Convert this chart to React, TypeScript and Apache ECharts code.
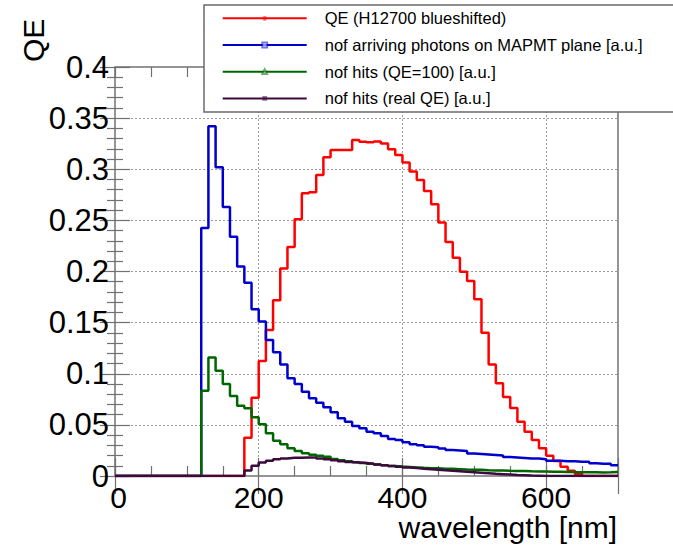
import React, { useEffect, useRef } from "react";
import * as echarts from "echarts";

// ---- data (bin width 10 nm, bins start at 0 nm) ----
const BIN_WIDTH = 10;
const X_MIN = 0;
const X_MAX = 700;
const Y_MAX = 0.4;

const seriesNames = [
  "QE (H12700 blueshifted)",
  "nof arriving photons on MAPMT plane [a.u.]",
  "nof hits (QE=100) [a.u.]",
  "nof hits (real QE) [a.u.]",
];

const seriesColors = ["#ff0000", "#0000cc", "#006600", "#3d0a3d"];

const qeBlueshifted = [
  0, 0, 0, 0, 0, 0, 0, 0, 0, 0, 0, 0, 0, 0, 0, 0, 0, 0,
  0.0375, 0.0766, 0.1125, 0.1428, 0.172, 0.203, 0.224, 0.251, 0.2765, 0.2775,
  0.2944, 0.3117, 0.3188, 0.3188, 0.3188, 0.3286, 0.327, 0.3263, 0.3272, 0.3253,
  0.3195, 0.314, 0.3067, 0.2977, 0.2895, 0.2787, 0.2657, 0.248, 0.2288, 0.2135,
  0.1998, 0.1907, 0.1728, 0.14, 0.109, 0.0906, 0.0773, 0.0665, 0.0531, 0.0433,
  0.0352, 0.0271, 0.0199, 0.0147, 0.0091, 0.0052, 0.002,
  0, 0, 0, 0, 0,
];

const arrivingPhotons = [
  0, 0, 0, 0, 0, 0, 0, 0, 0, 0, 0, 0,
  0.2425, 0.342, 0.302, 0.263, 0.234, 0.205, 0.189, 0.163, 0.151, 0.133,
  0.121, 0.109, 0.0955, 0.09, 0.0825, 0.076, 0.0717, 0.0672, 0.0623, 0.0564,
  0.0531, 0.0489, 0.0466, 0.0433, 0.0417, 0.039, 0.0362, 0.0352, 0.033, 0.031,
  0.03, 0.0285, 0.028, 0.027, 0.0255, 0.025, 0.0245, 0.022, 0.0215, 0.021,
  0.0205, 0.02, 0.0185, 0.018, 0.0175, 0.017, 0.017, 0.0165, 0.015, 0.015,
  0.0145, 0.0145, 0.014, 0.014, 0.0125, 0.012, 0.012, 0.0105,
];

const hitsQE100 = [
  0, 0, 0, 0, 0, 0, 0, 0, 0, 0, 0, 0,
  0.0834, 0.116, 0.103, 0.09, 0.0782, 0.0688, 0.0662, 0.0574, 0.0505, 0.0417,
  0.0345, 0.031, 0.0271, 0.0244, 0.0222, 0.0208, 0.0199, 0.0189, 0.0166, 0.0155,
  0.0145, 0.0135, 0.0128, 0.012, 0.0112, 0.0105, 0.0098, 0.0092, 0.0088, 0.0084,
  0.008, 0.0077, 0.0075, 0.0072, 0.007, 0.0067, 0.0064, 0.0062, 0.006, 0.0057,
  0.0055, 0.0053, 0.0051, 0.005, 0.0048, 0.0046, 0.0045, 0.0044, 0.0042, 0.0041,
  0.004, 0.0038, 0.0037, 0.0036, 0.0036, 0.0035, 0.0037, 0.004,
];

const hitsRealQE = [
  0, 0, 0, 0, 0, 0, 0, 0, 0, 0, 0, 0, 0, 0, 0, 0, 0, 0,
  0.0055, 0.01, 0.0132, 0.015, 0.0163, 0.0172, 0.0178, 0.0179, 0.0181, 0.018,
  0.0172, 0.0165, 0.0155, 0.0145, 0.0138, 0.0132, 0.0126, 0.012, 0.0113, 0.0105,
  0.0098, 0.0091, 0.0084, 0.0078, 0.0072, 0.0067, 0.0062, 0.0057, 0.0052, 0.0047,
  0.0042, 0.0037, 0.0032, 0.0027, 0.0022, 0.0018, 0.0014, 0.001, 0.0007, 0.0004,
  0.0002,
  0, 0, 0, 0, 0, 0, 0, 0, 0, 0, 0,
];

const seriesValues = [qeBlueshifted, arrivingPhotons, hitsQE100, hitsRealQE];
const seriesSymbols = [
  "circle",
  "emptyRect",
  "emptyTriangle",
  "path://M4,0 L6,0 L6,10 L4,10 Z",
];

const X_MAJOR = 200;
const X_MINOR = 50;
const Y_MAJOR = 0.05;

function toSteps(values: number[]): number[][] {
  const pts = values.map((v, i) => [X_MIN + i * BIN_WIDTH, v]);
  pts.push([X_MIN + values.length * BIN_WIDTH, values[values.length - 1]]);
  return pts;
}

const FONT = "Liberation Sans";
const FRAME = "#707070";

export default function App() {
  const ref = useRef<HTMLDivElement>(null);

  useEffect(() => {
    document.body.style.margin = "0";
    if (!ref.current) return;
    const chart = echarts.init(ref.current, null, { renderer: "svg" });

    const gridRect = { left: 115, right: 55, top: 67, bottom: 69 };
    const tickStyle = { color: FRAME, width: 1.2 };
    const dotted = { color: "#9a9a9a", width: 1, type: [2, 2] as number[] };

    const option: any = {
      animation: false,
      backgroundColor: "#ffffff",
      grid: [
        { ...gridRect, show: true, borderColor: FRAME, borderWidth: 1.5, backgroundColor: "transparent", z: 0 },
        { ...gridRect, show: false },
      ],
      xAxis: [
        {
          gridIndex: 0, type: "value", position: "bottom", min: X_MIN, max: X_MAX, interval: X_MAJOR,
          axisLine: { show: false },
          axisTick: { show: true, inside: true, length: 18, lineStyle: tickStyle },
          axisLabel: {
            show: true, margin: 9, color: "#000", fontSize: 30, lineHeight: 24, fontFamily: FONT,
            formatter: (v: number) => (v === X_MAX ? "" : v === X_MIN ? "{first|" + v + "}" : String(v)),
            rich: {
              first: { fontSize: 30, fontFamily: FONT, color: "#000", lineHeight: 24, padding: [0, 0, 0, 7] },
            },
          },
          splitLine: { show: true, lineStyle: dotted },
        },
        {
          gridIndex: 0, type: "value", position: "top", min: X_MIN, max: X_MAX, interval: X_MAJOR,
          axisLine: { show: false },
          axisTick: { show: true, inside: true, length: 18, lineStyle: tickStyle },
          axisLabel: { show: false },
          splitLine: { show: false },
        },
        {
          gridIndex: 1, type: "value", position: "bottom", min: X_MIN, max: X_MAX, interval: X_MINOR,
          axisLine: { show: false },
          axisTick: { show: true, inside: true, length: 10, lineStyle: tickStyle },
          axisLabel: { show: false },
          splitLine: { show: false },
        },
        {
          gridIndex: 1, type: "value", position: "top", min: X_MIN, max: X_MAX, interval: X_MINOR,
          axisLine: { show: false },
          axisTick: { show: true, inside: true, length: 10, lineStyle: tickStyle },
          axisLabel: { show: false },
          splitLine: { show: false },
        },
      ],
      yAxis: [
        {
          gridIndex: 0, type: "value", position: "left", min: 0, max: Y_MAX, interval: Y_MAJOR,
          axisLine: { show: false },
          axisTick: { show: true, inside: true, length: 15, lineStyle: tickStyle },
          minorTick: { show: true, splitNumber: 5, length: 8, lineStyle: tickStyle },
          axisLabel: { show: true, margin: 6, color: "#000", fontSize: 31, lineHeight: 20, fontFamily: FONT },
          splitLine: { show: true, lineStyle: dotted },
        },
        {
          gridIndex: 0, type: "value", position: "right", min: 0, max: Y_MAX, interval: Y_MAJOR,
          axisLine: { show: false },
          axisTick: { show: true, inside: true, length: 15, lineStyle: tickStyle },
          minorTick: { show: true, splitNumber: 5, length: 8, lineStyle: tickStyle },
          axisLabel: { show: false },
          splitLine: { show: false },
        },
        { gridIndex: 1, type: "value", min: 0, max: Y_MAX, show: false },
      ],
      legend: {
        show: true,
        orient: "vertical",
        left: 204,
        top: 5,
        padding: [4.3, 40, 4.7, 17.7],
        itemWidth: 84,
        itemHeight: 6,
        itemGap: 8.7,
        backgroundColor: "#ffffff",
        borderColor: "#6a6a6a",
        borderWidth: 1.5,
        borderRadius: 0,
        selectedMode: false,
        lineStyle: { width: 2 },
        textStyle: {
          fontFamily: FONT, fontSize: 16.5, color: "#000", lineHeight: 18,
          padding: [0, 0, 0, 13],
        },
        data: seriesNames,
        z: 10,
      },
      series: seriesValues.map((vals, i) => ({
        name: seriesNames[i],
        type: "line",
        xAxisIndex: 0,
        yAxisIndex: 0,
        step: "end",
        data: toSteps(vals),
        showSymbol: false,
        symbol: seriesSymbols[i],
        color: seriesColors[i],
        lineStyle: { color: seriesColors[i], width: 2.5 },
        itemStyle: { color: seriesColors[i], opacity: 0.55 },
        clip: true,
        z: 2 + i,
      })),
      graphic: [
        {
          type: "text",
          x: 18,
          y: 62,
          rotation: Math.PI / 2,
          style: {
            text: "QE", fontFamily: FONT, fontSize: 30, fill: "#000",
            textAlign: "left", textVerticalAlign: "top",
          },
        },
        {
          type: "text",
          x: 617,
          y: 527,
          style: {
            text: "wavelength [nm]", fontFamily: FONT, fontSize: 30, lineHeight: 28, fill: "#000",
            textAlign: "right", textVerticalAlign: "middle",
          },
        },
      ],
    };

    chart.setOption(option);
    return () => chart.dispose();
  }, []);

  return (
    <div
      ref={ref}
      style={{ position: "fixed", left: 0, top: 0, width: 673, height: 545, background: "#fff" }}
    />
  );
}
